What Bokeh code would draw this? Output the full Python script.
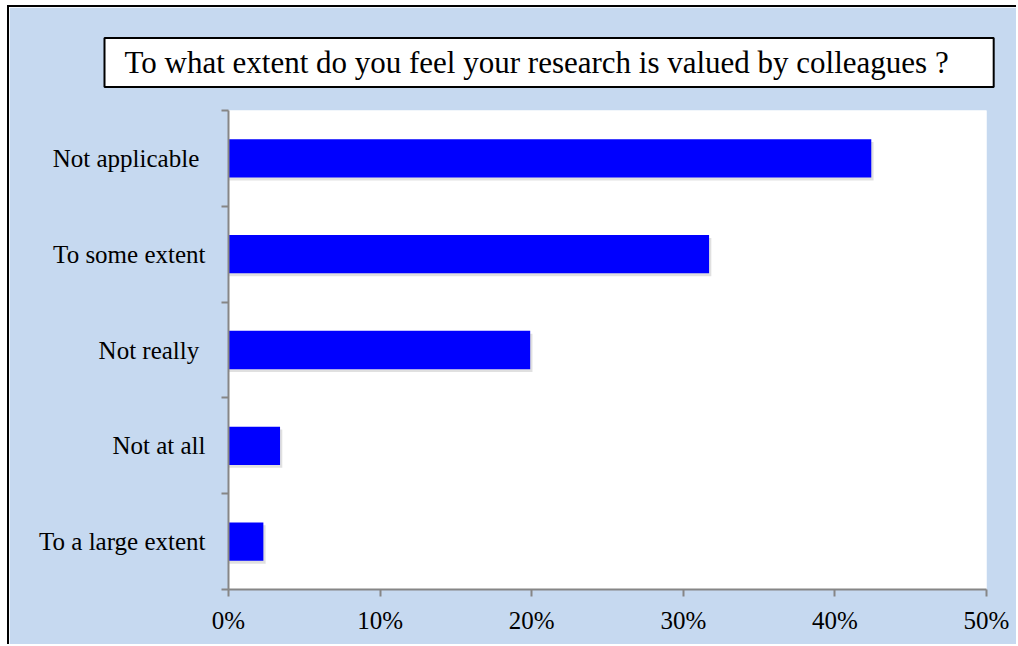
from bokeh.plotting import figure
from bokeh.models import FixedTicker, NumeralTickFormatter, Range1d, Title
from bokeh.embed import file_html
from bokeh.resources import INLINE

# Data (bottom to top)
categories = ["To a large extent", "Not at all", "Not really\u00a0", "To some extent", "Not applicable\u00a0"]
values = [0.023, 0.034, 0.199, 0.317, 0.424]
x_ticks = [0, 0.1, 0.2, 0.3, 0.4, 0.5]
title_text = "To what extent do you feel your research is valued by colleagues ?"

BG = "#c6d9f0"
FONT = "Liberation Serif"

ypos = [i + 0.5 for i in range(len(categories))]

p = figure(width=1009, height=639, output_backend="svg", toolbar_location=None,
           x_range=Range1d(0, 0.5), y_range=Range1d(0, len(categories)),
           min_border_left=219, min_border_right=32, min_border_top=103, min_border_bottom=57,
           styles={"margin-left": "7px", "margin-top": "5px",
                   "border-left": "2px solid black", "border-top": "2px solid black"})
p.background_fill_color = "white"
p.border_fill_color = BG
p.outline_line_color = None
p.grid.visible = False

p.title = Title(text=title_text, text_font=FONT, text_font_size="31px", text_font_style="normal",
                text_color="black", align="left", offset=-124, standoff=47,
                background_fill_color="white", border_line_color="black", border_line_width=2,
                padding=dict(left=20, right=45, top=7, bottom=7))

# shadow
p.hbar(y=[y - 0.03 for y in ypos], left=0, right=[v + 0.0015 for v in values], height=0.4,
       fill_color="#000000", fill_alpha=0.12, line_color=None)
p.hbar(y=ypos, left=0, right=values, height=0.4, fill_color="#0000ff", line_color=None)

# x axis
xa = p.xaxis[0]
xa.ticker = FixedTicker(ticks=x_ticks)
xa.formatter = NumeralTickFormatter(format="0%")
xa.axis_line_color = "#868686"
xa.axis_line_width = 2
xa.major_tick_line_color = "#868686"
xa.major_tick_line_width = 2
xa.major_tick_in = 0
xa.major_tick_out = 7
xa.minor_tick_line_color = None
xa.major_label_text_font = FONT
xa.major_label_text_font_size = "25px"
xa.major_label_text_color = "black"
xa.major_label_standoff = 10

# y axis
ya = p.yaxis[0]
ya.ticker = FixedTicker(ticks=ypos, minor_ticks=list(range(len(categories) + 1)))
ya.major_label_overrides = {y: c for y, c in zip(ypos, categories)}
ya.axis_line_color = "#868686"
ya.axis_line_width = 2
ya.major_tick_line_color = None
ya.minor_tick_line_color = "#868686"
ya.minor_tick_line_width = 2
ya.minor_tick_in = 0
ya.minor_tick_out = 7
ya.major_label_text_font = FONT
ya.major_label_text_font_size = "25px"
ya.major_label_text_color = "black"
ya.major_label_standoff = 16

open("out.html", "w").write(file_html(p, INLINE))
